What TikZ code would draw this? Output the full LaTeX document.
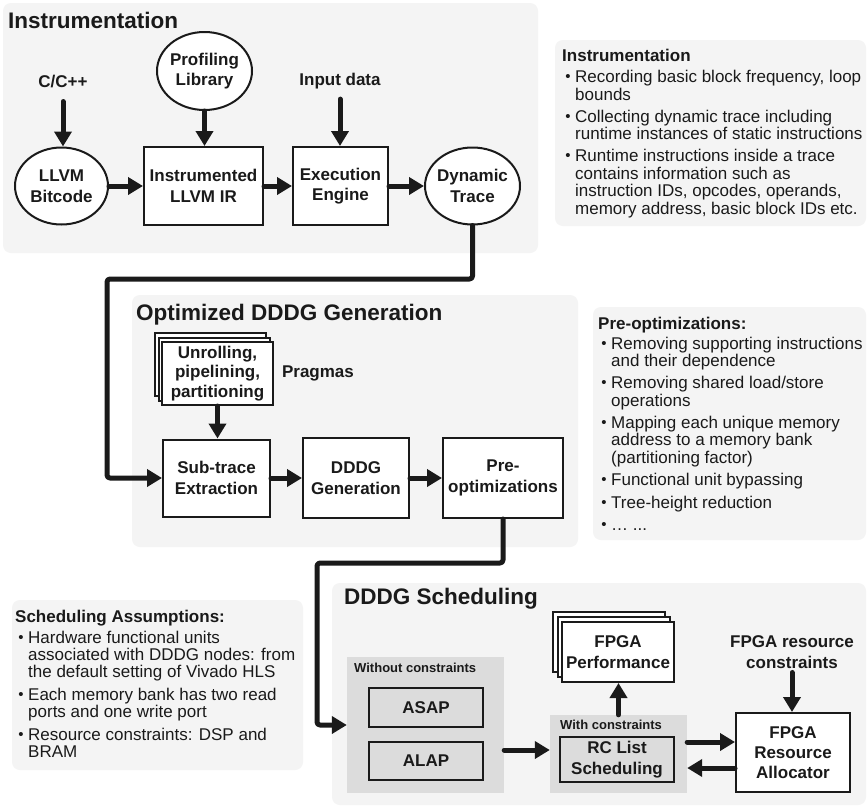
\documentclass[tikz,border=0pt]{standalone}
\usepackage{fontspec}
\setmainfont{Liberation Sans}
\usetikzlibrary{arrows.meta,shapes.geometric}
\definecolor{panel}{HTML}{F4F4F4}
\definecolor{innergray}{HTML}{DCDCDC}
\definecolor{ink}{HTML}{1A1A1A}
\newcommand\mytl[4]{\node[txt] (#1) at (#2,#3) {#4};}
\newcommand\mybl[4]{\node[txt] (#1) at (#2,#3) {\llap{\raisebox{0.6pt}{\fontsize{15}{15}\selectfont\textbullet}\hspace{4.5pt}}#4};}
\begin{document}
\begin{tikzpicture}[x=1pt,y=-1pt,
  panelbox/.style={fill=panel, rounded corners=8pt},
  box/.style={draw=ink, line width=2pt, fill=white, align=center, inner sep=0pt,
    font=\fontsize{17}{20.5}\selectfont\bfseries, text=ink},
  ell/.style={ellipse, draw=ink, line width=2pt, fill=white, inner sep=0pt},
  lbl/.style={align=center, inner sep=0pt, font=\fontsize{17}{20.5}\selectfont\bfseries, text=ink},
  ttl/.style={anchor=base west, inner sep=0pt, font=\fontsize{22.5}{27}\selectfont\bfseries, text=ink},
  txt/.style={anchor=base west, inner sep=0pt, font=\fontsize{17}{17.5}\selectfont, text=ink},
  stitle/.style={anchor=base west, inner sep=0pt, font=\fontsize{17}{17.5}\selectfont\bfseries, text=ink},
  small/.style={anchor=base west, inner sep=0pt, font=\fontsize{13}{15}\selectfont\bfseries, text=ink},
  arr/.style={draw=ink, line width=5pt, line cap=round, -{Triangle[length=15pt,width=17pt]}},
  conn/.style={arr, rounded corners=3pt, line join=round},
  stack/.style={draw=ink, line width=2pt, fill=white}
]
\useasboundingbox (0,0) rectangle (867,806);
\fill[white] (0,0) rectangle (867,806);

% ---------- panels ----------
\fill[panelbox] (3,3) rectangle (538,253);
\fill[panelbox] (555,40) rectangle (866,226);
\fill[panelbox] (132,295) rectangle (578,547);
\fill[panelbox] (593,307) rectangle (866,540);
\fill[panelbox] (12,600) rectangle (303,770);
\fill[panelbox] (332,583) rectangle (866,805);

% ---------- titles ----------
\node[ttl] (t1) at (8,28) {Instrumentation};
\node[ttl] (t2) at (136,320) {Optimized DDDG Generation};
\node[ttl] (t3) at (344,604) {DDDG Scheduling};

% ---------- Instrumentation ----------
\node[lbl] (cpp) at (63,82) {C/C++};
\node[ell, minimum width=93pt, minimum height=77pt] (llvm) at (61.5,186) {};
\node[lbl] (llvmt) at (llvm) {LLVM\\Bitcode};
\node[ell, minimum width=95pt, minimum height=78pt] (prof) at (204.5,71) {};
\node[lbl] (proft) at (prof) {Profiling\\Library};
\node[box, minimum width=119pt, minimum height=78pt] (instr) at (203.5,186) {Instrumented\\LLVM IR};
\node[lbl] (inp) at (340,81) {Input data};
\node[box, minimum width=95pt, minimum height=78pt] (exec) at (340.5,186) {Execution\\Engine};
\node[ell, minimum width=95pt, minimum height=77pt] (dyn) at (472.5,186) {};
\node[lbl] (dynt) at (dyn) {Dynamic\\Trace};

\draw[arr, shorten <=13pt] (cpp.south) -- (cpp.south |- llvm.north);
\draw[arr] (prof.south) -- (prof.south |- instr.north);
\draw[arr, shorten <=10pt] (inp.south) -- (inp.south |- exec.north);
\draw[arr] (llvm.east) -- (instr.west);
\draw[arr] (instr.east) -- (exec.west);
\draw[arr] (exec.east) -- (dyn.west);

% ---------- Optimized DDDG Generation ----------
\foreach \k in {2,1}
  \draw[stack] (162-3.5*\k, 342-4.5*\k) rectangle (273-3.5*\k, 405-4.5*\k);
\node[box, minimum width=111pt, minimum height=63pt, font=\fontsize{17}{19.5}\selectfont\bfseries] (unr) at (217.5,373.5) {Unrolling,\\pipelining,\\partitioning};
\node[lbl] (prag) at (318,373) {Pragmas};
\node[box, minimum width=107pt, minimum height=77pt] (sub) at (216.5,478) {Sub-trace\\Extraction};
\node[box, minimum width=106pt, minimum height=80pt] (dddg) at (356,478) {DDDG\\Generation};
\node[box, minimum width=120pt, minimum height=80pt] (pre) at (503,478) {Pre-\\optimizations};

\draw[arr] (unr.south) -- (unr.south |- sub.north);
\draw[arr] (sub.east) -- (dddg.west);
\draw[arr] (dddg.east) -- (pre.west);

\coordinate (c1) at (107,279);
\draw[conn] (dyn.south) |- (c1) |- (sub.west);

% ---------- DDDG Scheduling ----------
\node[fill=innergray, minimum width=157pt, minimum height=136pt, inner sep=0pt] (woc) at (425.5,725) {};
\node[small] (wocl) at (354,672.5) {Without constraints};
\node[box, fill=innergray, minimum width=114pt, minimum height=39pt] (asap) at (426,707.5) {ASAP};
\node[box, fill=innergray, minimum width=114pt, minimum height=38pt] (alap) at (426,761) {ALAP};

\node[fill=innergray, minimum width=137pt, minimum height=78pt, inner sep=0pt] (wc) at (618.5,754) {};
\node[small] (wcl) at (560,729.5) {With constraints};
\node[box, fill=innergray, minimum width=114pt, minimum height=45pt] (rc) at (617,759.5) {RC List\\Scheduling};

\foreach \k in {2,1}
  \draw[stack] (562-4.5*\k, 622-5*\k) rectangle (674-4.5*\k, 682-5*\k);
\node[box, minimum width=112pt, minimum height=60pt] (perf) at (618,652) {FPGA\\Performance};

\node[lbl] (frc) at (792,652) {FPGA resource\\constraints};
\node[box, minimum width=114pt, minimum height=79pt, font=\fontsize{17}{20}\selectfont\bfseries] (alloc) at (793,752.5) {FPGA\\Resource\\Allocator};

\coordinate (c2) at (317,563);
\draw[conn] (pre.south) |- (c2) |- (woc.west);

\coordinate (w1) at ([yshift=-25pt]woc.east);
\draw[arr] (w1) -- (w1 -| wc.west);
\draw[arr] (wc.north) -- (wc.north |- perf.south);
\draw[arr, shorten <=4pt] (frc.south) -- (frc.south |- alloc.north);
\coordinate (a1) at ([yshift=10.5pt]alloc.west);
\coordinate (a2) at ([yshift=-15.5pt]alloc.west);
\draw[arr] (a1 -| wc.east) -- (a1);
\draw[arr] (a2) -- (a2 -| wc.east);

% ---------- side notes: Instrumentation ----------
\node[stitle] (n1) at (562,61.5) {Instrumentation};
\mybl{n1a}{575}{82.5}{Recording basic block frequency, loop}
\mytl{n1b}{575}{100}{bounds}
\mybl{n1c}{575}{122}{Collecting dynamic trace including}
\mytl{n1d}{575}{139.5}{runtime instances of static instructions}
\mybl{n1e}{575}{161.5}{Runtime instructions inside a trace}
\mytl{n1f}{575}{179}{contains information such as}
\mytl{n1g}{575}{196.5}{instruction IDs, opcodes, operands,}
\mytl{n1h}{575}{214}{memory address, basic block IDs etc.}

% ---------- side notes: Pre-optimizations ----------
\node[stitle] (n2) at (598,329) {Pre-optimizations:};
\mybl{n2a}{611}{349}{Removing supporting instructions}
\mytl{n2b}{611}{366.5}{and their dependence}
\mybl{n2c}{611}{388.5}{Removing shared load/store}
\mytl{n2d}{611}{406}{operations}
\mybl{n2e}{611}{428}{Mapping each unique memory}
\mytl{n2f}{611}{445.5}{address to a memory bank}
\mytl{n2g}{611}{463}{(partitioning factor)}
\mybl{n2h}{611}{485.5}{Functional unit bypassing}
\mybl{n2i}{611}{508}{Tree-height reduction}
\mybl{n2j}{611}{530.5}{… ...}

% ---------- side notes: Scheduling Assumptions ----------
\node[stitle] (n3) at (15,622.5) {Scheduling Assumptions:};
\mybl{n3a}{28}{643.5}{Hardware functional units}
\mytl{n3b}{28}{660.5}{associated with DDDG nodes: from}
\mytl{n3c}{28}{677.5}{the default setting of Vivado HLS}
\mybl{n3d}{28}{700.5}{Each memory bank has two read}
\mytl{n3e}{28}{717.5}{ports and one write port}
\mybl{n3f}{28}{740.5}{Resource constraints: DSP and}
\mytl{n3g}{28}{757.5}{BRAM}
\end{tikzpicture}
\end{document}
